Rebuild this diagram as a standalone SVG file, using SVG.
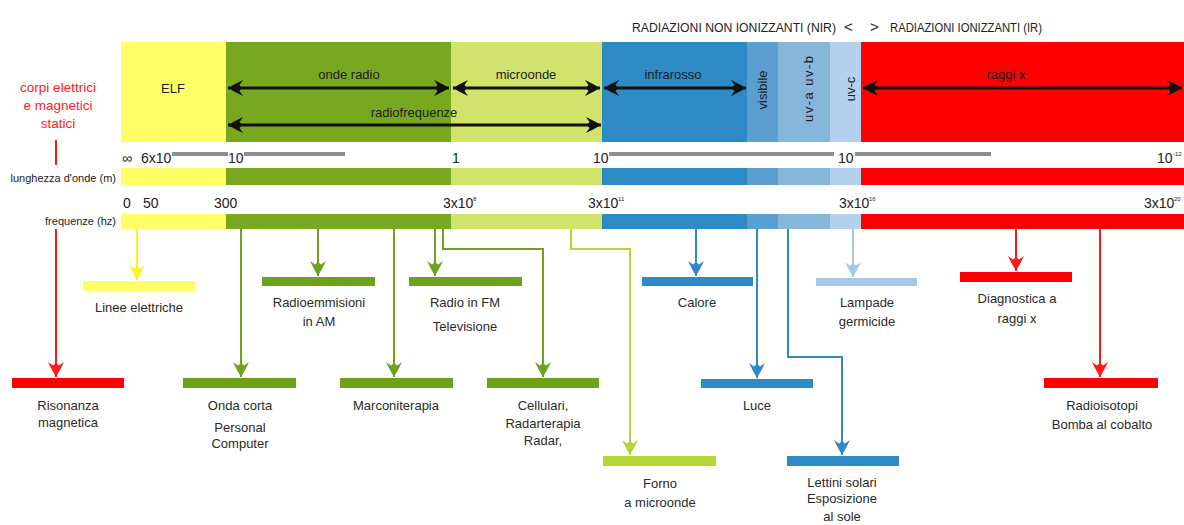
<svg xmlns="http://www.w3.org/2000/svg" width="1184" height="525" viewBox="0 0 1184 525">
<defs>
<style>
text{font-family:"Liberation Sans",Arial,sans-serif;fill:#2a2a2a;}
.lbl{font-size:13px;text-anchor:middle;}
.band{font-size:13px;text-anchor:middle;fill:#1e1e1e;}
.num{font-size:14px;fill:#222;}
.sup{font-size:6px;fill:#222;}
.side{font-size:11px;text-anchor:end;fill:#222;}
.red{fill:#ff2020;font-size:13.5px;text-anchor:middle;}
.hdr{font-size:12.5px;fill:#222;}
.blk{stroke:#111;stroke-width:2.8;fill:none;marker-start:url(#mk);marker-end:url(#mk);}
.c{fill:none;stroke-width:2;}
.gray{stroke:#8e8e8e;stroke-width:4;}
</style>
<marker id="mk" markerUnits="userSpaceOnUse" markerWidth="18" markerHeight="16" refX="16" refY="8" orient="auto-start-reverse"><path d="M16,8 L9,4 L1,0 L4.5,5 L2,8 L4.5,11 L1,16 L9,12 Z" fill="#111"/></marker>
<marker id="mr" markerUnits="userSpaceOnUse" markerWidth="18" markerHeight="16" refX="16" refY="8" orient="auto"><path d="M16,8 L9,4 L1,0 L4.5,5 L2,8 L4.5,11 L1,16 L9,12 Z" fill="#ff1a1a"/></marker>
<marker id="my" markerUnits="userSpaceOnUse" markerWidth="18" markerHeight="16" refX="16" refY="8" orient="auto"><path d="M16,8 L9,4 L1,0 L4.5,5 L2,8 L4.5,11 L1,16 L9,12 Z" fill="#f5f52a"/></marker>
<marker id="mg" markerUnits="userSpaceOnUse" markerWidth="18" markerHeight="16" refX="16" refY="8" orient="auto"><path d="M16,8 L9,4 L1,0 L4.5,5 L2,8 L4.5,11 L1,16 L9,12 Z" fill="#6ea21d"/></marker>
<marker id="ml" markerUnits="userSpaceOnUse" markerWidth="18" markerHeight="16" refX="16" refY="8" orient="auto"><path d="M16,8 L9,4 L1,0 L4.5,5 L2,8 L4.5,11 L1,16 L9,12 Z" fill="#b5d534"/></marker>
<marker id="mb" markerUnits="userSpaceOnUse" markerWidth="18" markerHeight="16" refX="16" refY="8" orient="auto"><path d="M16,8 L9,4 L1,0 L4.5,5 L2,8 L4.5,11 L1,16 L9,12 Z" fill="#2d8ac5"/></marker>
<marker id="mc" markerUnits="userSpaceOnUse" markerWidth="18" markerHeight="16" refX="16" refY="8" orient="auto"><path d="M16,8 L9,4 L1,0 L4.5,5 L2,8 L4.5,11 L1,16 L9,12 Z" fill="#a6c8e6"/></marker>
</defs>
<rect width="1184" height="525" fill="#ffffff"/>

<g id="header">
<text class="hdr" x="632" y="32" textLength="204" lengthAdjust="spacingAndGlyphs">RADIAZIONI NON IONIZZANTI (NIR)</text>
<text class="hdr" x="844" y="32" style="font-size:15px">&lt;</text>
<text class="hdr" x="870" y="32" style="font-size:15px">&gt;</text>
<text class="hdr" x="890" y="32" textLength="152" lengthAdjust="spacingAndGlyphs">RADIAZIONI IONIZZANTI (IR)</text>
</g>

<g id="spectrum">
<rect x="121" y="42" width="105" height="100" fill="#ffff66"/>
<rect x="226" y="42" width="225" height="100" fill="#78a820"/>
<rect x="451" y="42" width="151" height="100" fill="#d1e36b"/>
<rect x="602" y="42" width="145" height="100" fill="#2e8ac5"/>
<rect x="747" y="42" width="31" height="100" fill="#5a9fd0"/>
<rect x="778" y="42" width="52" height="100" fill="#86b6d9"/>
<rect x="830" y="42" width="31" height="100" fill="#b3d1ec"/>
<rect x="861" y="42" width="323" height="100" fill="#ff0000"/>
</g>

<g id="wavelength-band">
<rect x="121" y="168" width="105" height="17" fill="#ffff66"/>
<rect x="226" y="168" width="225" height="17" fill="#78a820"/>
<rect x="451" y="168" width="151" height="17" fill="#d1e36b"/>
<rect x="602" y="168" width="145" height="17" fill="#2e8ac5"/>
<rect x="747" y="168" width="31" height="17" fill="#5a9fd0"/>
<rect x="778" y="168" width="52" height="17" fill="#86b6d9"/>
<rect x="830" y="168" width="31" height="17" fill="#b3d1ec"/>
<rect x="861" y="168" width="323" height="17" fill="#ff0000"/>
</g>

<g id="frequency-band">
<rect x="121" y="214" width="105" height="15" fill="#ffff66"/>
<rect x="226" y="214" width="225" height="15" fill="#78a820"/>
<rect x="451" y="214" width="151" height="15" fill="#d1e36b"/>
<rect x="602" y="214" width="145" height="15" fill="#2e8ac5"/>
<rect x="747" y="214" width="31" height="15" fill="#5a9fd0"/>
<rect x="778" y="214" width="52" height="15" fill="#86b6d9"/>
<rect x="830" y="214" width="31" height="15" fill="#b3d1ec"/>
<rect x="861" y="214" width="323" height="15" fill="#ff0000"/>
</g>

<g id="band-labels">
<text class="band" x="173" y="93">ELF</text>
<text class="band" x="349" y="79">onde radio</text>
<text class="band" x="526" y="79">microonde</text>
<text class="band" x="673" y="79">infrarosso</text>
<text class="band" x="414" y="117">radiofrequenze</text>
<text class="band" x="1006" y="79">raggi x</text>
<text class="band" transform="translate(762,90) rotate(-90)" dy="4.5">visibile</text>
<text class="band" transform="translate(808,89) rotate(-90)" dy="4.5" textLength="66" lengthAdjust="spacing">uv-a uv-b</text>
<text class="band" transform="translate(850,89) rotate(-90)" dy="4.5">uv-c</text>
</g>

<g id="range-arrows">
<line class="blk" x1="228" y1="88" x2="449" y2="88"/>
<line class="blk" x1="453" y1="88" x2="600" y2="88"/>
<line class="blk" x1="604" y1="88" x2="746" y2="88"/>
<line class="blk" x1="863" y1="88" x2="1182" y2="88"/>
<line class="blk" x1="228" y1="125" x2="601" y2="125"/>
</g>

<g id="scales">
<line class="gray" x1="172" y1="154" x2="228" y2="154"/>
<line class="gray" x1="244" y1="154" x2="345" y2="154"/>
<line class="gray" x1="609" y1="154" x2="834" y2="154"/>
<line class="gray" x1="855" y1="154" x2="991" y2="154"/>
<text class="num" x="122" y="163">∞</text>
<text class="num" x="141" y="163">6x10</text>
<text class="num" x="228" y="163">10</text>
<text class="num" x="452" y="163">1</text>
<text class="num" x="593" y="163">10</text>
<text class="num" x="838" y="163">10</text>
<text class="num" x="1157" y="163">10</text><text class="sup" x="1173" y="156">-12</text>
<text class="num" x="123" y="208">0</text>
<text class="num" x="143" y="208">50</text>
<text class="num" x="214" y="208">300</text>
<text class="num" x="443" y="208">3x10</text><text class="sup" x="473" y="201">8</text>
<text class="num" x="588" y="208">3x10</text><text class="sup" x="618" y="201">11</text>
<text class="num" x="839" y="208">3x10</text><text class="sup" x="869" y="201">16</text>
<text class="num" x="1144" y="208">3x10</text><text class="sup" x="1174" y="201">20</text>
<text class="side" x="116" y="182">lunghezza d'onde (m)</text>
<text class="side" x="116" y="225">frequenze (hz)</text>
</g>

<g id="static-label">
<text class="red" x="58" y="92">corpi elettrici</text>
<text class="red" x="58" y="110">e magnetici</text>
<text class="red" x="58" y="128">statici</text>
</g>

<g id="connectors">
<path class="c" stroke="#ff1a1a" d="M56,140 V165"/>
<path class="c" stroke="#ff1a1a" d="M56,229 V377" marker-end="url(#mr)"/>
<path class="c" stroke="#f5f52a" d="M137,229 V280" marker-end="url(#my)"/>
<path class="c" stroke="#6ea21d" d="M241,229 V377" marker-end="url(#mg)"/>
<path class="c" stroke="#6ea21d" d="M318,229 V276" marker-end="url(#mg)"/>
<path class="c" stroke="#6ea21d" d="M394,229 V377" marker-end="url(#mg)"/>
<path class="c" stroke="#6ea21d" d="M435,229 V276" marker-end="url(#mg)"/>
<path class="c" stroke="#6ea21d" d="M443,229 V249 H543 V377" marker-end="url(#mg)"/>
<path class="c" stroke="#b5d534" d="M571,229 V249 H630 V455" marker-end="url(#ml)"/>
<path class="c" stroke="#2d8ac5" d="M696,229 V276" marker-end="url(#mb)"/>
<path class="c" stroke="#2d8ac5" d="M757,229 V378" marker-end="url(#mb)"/>
<path class="c" stroke="#2d8ac5" d="M788,229 V357 H842 V455" marker-end="url(#mb)"/>
<path class="c" stroke="#a6c8e6" d="M853,229 V277" marker-end="url(#mc)"/>
<path class="c" stroke="#ff1a1a" d="M1016,229 V271" marker-end="url(#mr)"/>
<path class="c" stroke="#ff1a1a" d="M1100,229 V377" marker-end="url(#mr)"/>
</g>

<g id="n-risonanza"><rect x="12" y="378" width="112" height="10" fill="#ff0000"/><text class="lbl" x="68" y="410">Risonanza</text><text class="lbl" x="68" y="427">magnetica</text></g>
<g id="n-linee"><rect x="83" y="281" width="112" height="10" fill="#ffff66"/><text class="lbl" x="139" y="312">Linee elettriche</text></g>
<g id="n-onda-corta"><rect x="183" y="378" width="113" height="10" fill="#6ea21d"/><text class="lbl" x="240" y="410">Onda corta</text><text class="lbl" x="240" y="432">Personal</text><text class="lbl" x="240" y="448">Computer</text></g>
<g id="n-radioemm"><rect x="262" y="277" width="113" height="9" fill="#6ea21d"/><text class="lbl" x="319" y="307">Radioemmisioni</text><text class="lbl" x="319" y="326">in AM</text></g>
<g id="n-marconi"><rect x="340" y="378" width="113" height="10" fill="#6ea21d"/><text class="lbl" x="396" y="410">Marconiterapia</text></g>
<g id="n-radiofm"><rect x="409" y="277" width="113" height="9" fill="#6ea21d"/><text class="lbl" x="465" y="307">Radio in FM</text><text class="lbl" x="465" y="331">Televisione</text></g>
<g id="n-cellulari"><rect x="487" y="378" width="112" height="10" fill="#6ea21d"/><text class="lbl" x="543" y="410">Cellulari,</text><text class="lbl" x="543" y="428">Radarterapia</text><text class="lbl" x="543" y="445">Radar,</text></g>
<g id="n-forno"><rect x="603" y="456" width="113" height="10" fill="#b5d534"/><text class="lbl" x="660" y="488">Forno</text><text class="lbl" x="660" y="507">a microonde</text></g>
<g id="n-calore"><rect x="642" y="277" width="111" height="9" fill="#2d8ac5"/><text class="lbl" x="697" y="307">Calore</text></g>
<g id="n-luce"><rect x="701" y="379" width="112" height="9" fill="#2d8ac5"/><text class="lbl" x="757" y="410">Luce</text></g>
<g id="n-lettini"><rect x="787" y="456" width="112" height="10" fill="#2d8ac5"/><text class="lbl" x="842" y="487">Lettini solari</text><text class="lbl" x="842" y="503">Esposizione</text><text class="lbl" x="842" y="521">al sole</text></g>
<g id="n-lampade"><rect x="816" y="278" width="101" height="8" fill="#a6c8e6"/><text class="lbl" x="867" y="307">Lampade</text><text class="lbl" x="867" y="326">germicide</text></g>
<g id="n-diagnostica"><rect x="960" y="272" width="112" height="10" fill="#ff0000"/><text class="lbl" x="1017" y="303">Diagnostica a</text><text class="lbl" x="1017" y="323">raggi x</text></g>
<g id="n-radioisotopi"><rect x="1044" y="378" width="114" height="10" fill="#ff0000"/><text class="lbl" x="1102" y="410">Radioisotopi</text><text class="lbl" x="1102" y="429">Bomba al cobalto</text></g>
</svg>
